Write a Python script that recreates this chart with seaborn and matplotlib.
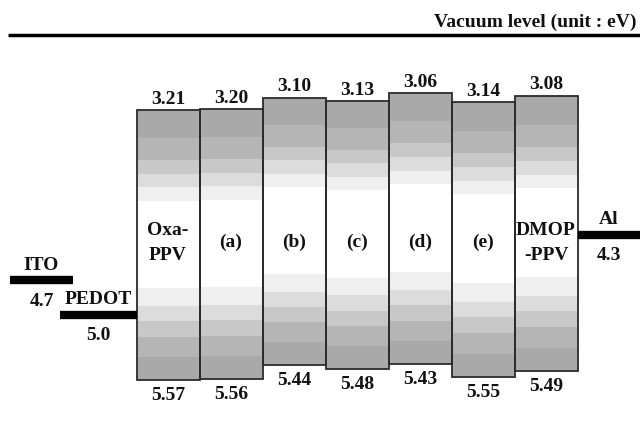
import numpy as np
import pandas as pd
import matplotlib
matplotlib.use("Agg")
import matplotlib.pyplot as plt
import seaborn as sns

# Energy levels (eV below vacuum)
materials = ["Oxa-\nPPV", "(a)", "(b)", "(c)", "(d)", "(e)", "DMOP\n-PPV"]
lumo = [3.21, 3.20, 3.10, 3.13, 3.06, 3.14, 3.08]
homo = [5.57, 5.56, 5.44, 5.48, 5.43, 5.55, 5.49]
electrodes = ["ITO", "PEDOT", "Al"]
work_function = [4.7, 5.0, 4.3]

sns.set_style("white")
plt.rcParams["font.family"] = ["Liberation Serif", "DejaVu Serif"]
plt.rcParams["font.weight"] = "bold"

df = pd.DataFrame({"material": materials, "lumo": lumo, "homo": homo})
df["gap"] = df["homo"] - df["lumo"]

fig = plt.figure(figsize=(6.4, 4.28), dpi=100)
ax = fig.add_axes([0, 0, 1, 1])

sns.barplot(data=df, x="material", y="gap", bottom=df["lumo"].to_numpy(),
            width=1.0, color="white", edgecolor="#2b2b2b", linewidth=1.3,
            errorbar=None, ax=ax, zorder=3)

# stepped grey shading: dark at both band edges, white in the middle
edges = [0, .105, .186, .236, .286, .336, .66, .726, .783, .84, .915, 1.0]
tones = [0xa9, 0xb5, 0xc8, 0xdc, 0xef, 0xff, 0xef, 0xdc, 0xc8, 0xb5, 0xa9]
n = 1000
t = (np.arange(n) + 0.5) / n
shade = np.empty(n)
for a, b, g in zip(edges[:-1], edges[1:], tones):
    shade[(t >= a) & (t < b)] = g / 255.0
grad = shade[:, None]

for p in list(ax.patches):
    p.set_facecolor("none")
    x0, w = p.get_x(), p.get_width()
    y0, h = p.get_y(), p.get_height()
    im = ax.imshow(grad, extent=(x0, x0 + w, y0 + h, y0), origin="upper",
                   aspect="auto", cmap="gray", vmin=0, vmax=1,
                   interpolation="nearest", zorder=2)
    im.set_clip_path(p)

fs = 14
txt = dict(fontsize=fs, fontweight="bold", color="#111111")

for i, (lo, hi, name) in enumerate(zip(lumo, homo, materials)):
    ax.annotate(f"{lo:.2f}", (i, lo), xytext=(0, 2), textcoords="offset points",
                ha="center", va="bottom", **txt)
    ax.annotate(f"{hi:.2f}", (i, hi), xytext=(0, -5), textcoords="offset points",
                ha="center", va="top", **txt)
    ax.text(i, 4.37, name, ha="center", va="center", linespacing=1.6,
            zorder=4, **txt)

# electrode work functions
spans = [(-2.508, -1.508), (-1.714, -0.5), (6.5, 7.6)]
for name, wf, (xa, xb) in zip(electrodes, work_function, spans):
    ax.hlines(wf, xa, xb, color="black", lw=6, zorder=3)
    xc = 0.5 * (xa + min(xb, 7.49))
    ax.annotate(name, (xc, wf), xytext=(0, 5), textcoords="offset points",
                ha="center", va="bottom", **txt)
    ax.annotate(f"{wf:.1f}", (xc, wf), xytext=(0, -9), textcoords="offset points",
                ha="center", va="top", **txt)

# vacuum level reference line
ax.plot([8 / 640, 1.0], [1 - 35 / 428] * 2, transform=ax.transAxes,
        color="black", lw=2.5, solid_capstyle="butt", clip_on=False)
fig.text(0.995, 1 - 27 / 428, "Vacuum level (unit : eV)", ha="right",
         va="baseline", **txt)

ax.set_xlim(-2.667, 7.492)
ax.set_ylim(5.993, 2.242)
ax.axis("off")

fig.savefig("out.png", dpi=100)
